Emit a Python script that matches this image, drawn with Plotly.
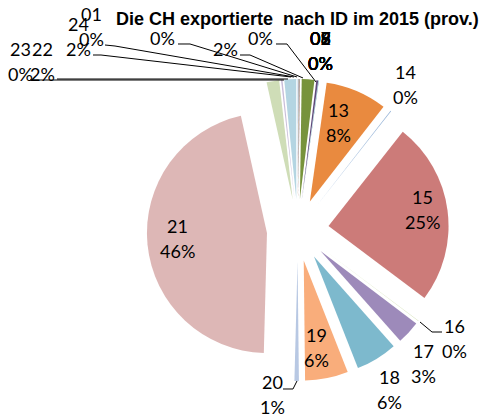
import plotly.graph_objects as go

W, H = 486, 418

# ---- data ----
categories = ["01", "02", "03", "05", "06", "07", "08", "09", "10", "11", "12",
              "13", "14", "15", "16", "17", "18", "19", "20", "21", "22", "23", "24"]
values = [0.03, 0.03, 0.03, 0.03, 0.03, 0.03, 0.03, 0.03, 1.7, 0.25, 0.05,
          8.3, 0.1, 24.7, 0.05, 3.15, 5.6, 5.8, 0.6, 46.2, 1.7, 0.2, 1.6]
colors = ["#4F81BD", "#C0504D", "#9BBB59", "#8064A2", "#4BACC6", "#F79646",
          "#3A5F8B", "#8E3B39", "#77933C", "#604A7B", "#31859C",
          "#E98A3F", "#95B3D7", "#CC7B79", "#C3D69B", "#9D8ABA", "#7DB9CD",
          "#F9AD7B", "#B8C8E3", "#DDB7B6", "#CFDDB7", "#C9BDD9", "#B4D5E2"]
title_text = "Die CH exportierte\u00a0 nach ID im 2015 (prov.)"

total = sum(values)
pct = {c: round(v / total * 100) for c, v in zip(categories, values)}

# label layout: category -> (x_px, y_px of name line, show name)
label_pos = {
    "13": (338, 110, True), "15": (422, 197, True), "21": (177, 226, True),
    "19": (316, 335, True), "14": (405, 72, True), "16": (454, 326, True),
    "17": (423, 351, True), "18": (389, 377, True), "20": (272, 382, True),
    "24": (78, 24, True), "01": (91, 14, True), "23": (20, 49, True),
    "22": (42, 49, True), "10": (225, 24, False), "11": (162, 13, False),
    "12": (260, 13, False),
    "02": (320, 38, True), "03": (320, 38, True), "05": (320, 38, True),
    "06": (320, 38, True), "07": (320, 38, True), "08": (320, 38, True),
    "09": (320, 38, True),
}
LINE = 25

leader_lines = [
    [(30, 80), (284, 80)],
    [(57, 79), (288, 79)],
    [(93, 55), (101, 55), (291, 77)],
    [(105, 45), (115, 46), (294, 77)],
    [(178, 44), (190, 44), (297, 77)],
    [(240, 55), (250, 55), (303, 78)],
    [(276, 44), (287, 44), (316, 82)],
    [(420, 322), (432, 332), (442, 332)],
    [(283, 389), (293, 389), (297, 381)],
]

pulls = [0.258] * len(values)


def px(x):
    return x / W


def py(y):
    return 1 - y / H


fig = go.Figure(go.Pie(
    labels=categories, values=values, sort=False, direction="clockwise",
    rotation=0, pull=pulls, textinfo="none", hoverinfo="skip",
    marker=dict(colors=colors, line=dict(width=0)),
    domain=dict(x=[146.8 / W, 448.8 / W], y=[1 - 381 / H, 1 - 79 / H]),
    showlegend=False,
))

annotations = []
lab_font = dict(family="Lato", size=18, color="#000000")
for c in categories:
    x, y, show = label_pos[c]
    if show:
        annotations.append(dict(text=c, x=px(x), y=py(y), xref="paper", yref="paper",
                                showarrow=False, xanchor="center", yanchor="middle",
                                font=lab_font))
    annotations.append(dict(text=f"{pct[c]}%", x=px(x), y=py(y + LINE), xref="paper",
                            yref="paper", showarrow=False, xanchor="center",
                            yanchor="middle", font=lab_font))

annotations.append(dict(text=f"<b>{title_text}</b>", x=px(297), y=py(19), xref="paper",
                        yref="paper", showarrow=False, xanchor="center", yanchor="middle",
                        font=dict(family="Liberation Sans", size=18, color="#000000")))

shapes = []
for pts in leader_lines:
    path = "M " + " L ".join(f"{px(a):.5f},{py(b):.5f}" for a, b in pts)
    shapes.append(dict(type="path", path=path, xref="paper", yref="paper",
                       line=dict(color="#000000", width=1)))

fig.update_layout(
    width=W, height=H, margin=dict(l=0, r=0, t=0, b=0),
    paper_bgcolor="white", plot_bgcolor="white",
    annotations=annotations, shapes=shapes,
)

fig.write_html("out.html")
